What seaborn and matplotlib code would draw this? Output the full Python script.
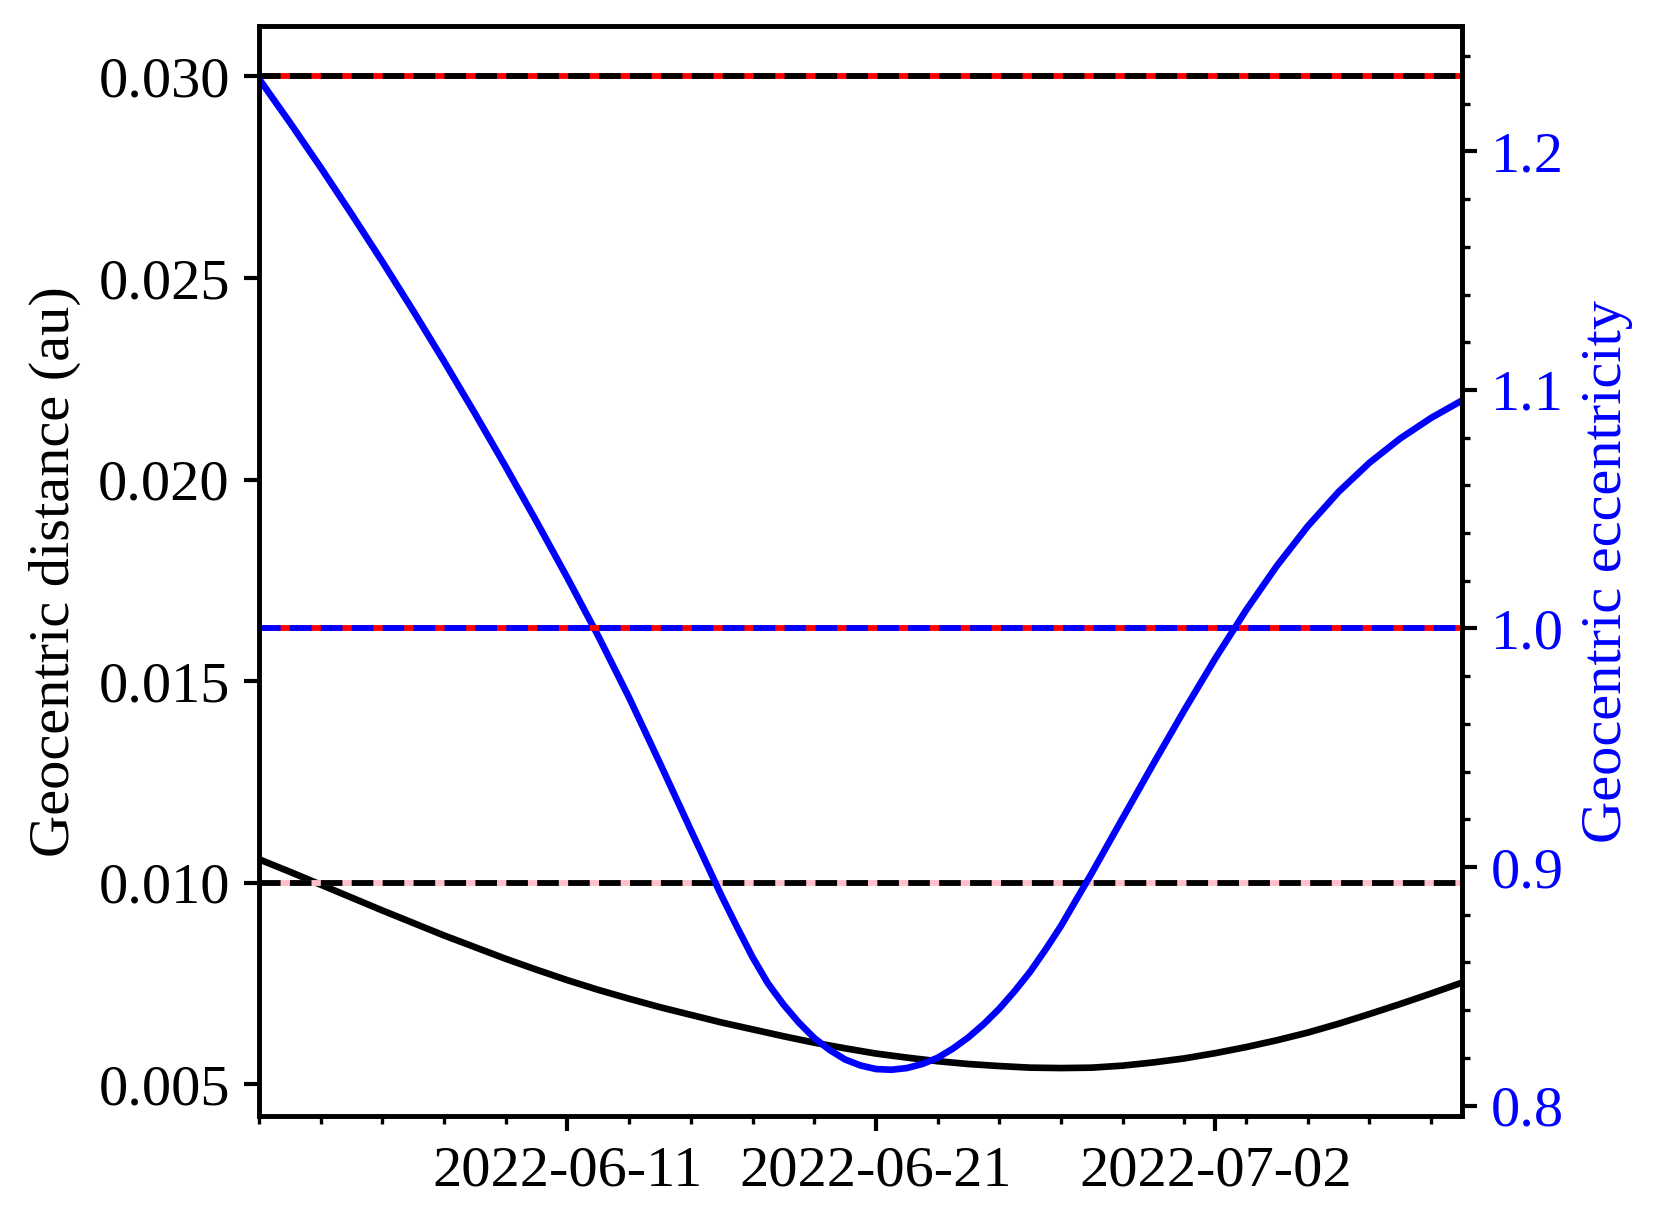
import pandas as pd
import matplotlib
matplotlib.use("Agg")
import matplotlib.pyplot as plt
import matplotlib.dates as mdates
from matplotlib.ticker import AutoMinorLocator, FixedLocator
import seaborn as sns

start = pd.Timestamp("2022-06-01")

# geocentric distance (au), one value per day from 2022-06-01 to 2022-07-10
dist_days = list(range(40))
distance = [0.01058, 0.01027, 0.00995, 0.00963, 0.00931, 0.00900, 0.00869, 0.00840,
            0.00811, 0.00784, 0.00758, 0.00734, 0.00712, 0.00691, 0.00672, 0.00653,
            0.00636, 0.00619, 0.00603, 0.00589, 0.00576, 0.00566, 0.00557, 0.00550,
            0.00545, 0.00541, 0.00540, 0.00541, 0.00546, 0.00554, 0.00564, 0.00577,
            0.00592, 0.00609, 0.00628, 0.00650, 0.00674, 0.00699, 0.00725, 0.00752]

# geocentric eccentricity (half-day readings around the minimum)
ecc_days = ([0, 1, 2, 3, 4, 5, 6, 7, 8, 9, 10, 11, 12, 13, 14, 15]
            + [15.5, 16, 16.5, 17, 17.5, 18, 18.5, 19, 19.5, 20, 20.5, 21, 21.5,
               22, 22.5, 23, 23.5, 24, 24.5, 25, 25.5]
            + [26, 27, 28, 29, 30, 31, 32, 33, 34, 35, 36, 37, 38, 39])
eccentricity = ([1.2305, 1.2122, 1.1933, 1.1738, 1.1538, 1.1332, 1.1120, 1.0902,
                 1.0678, 1.0448, 1.0212, 0.9968, 0.9710, 0.9435, 0.9155, 0.8878]
                + [0.8748, 0.8622, 0.8512, 0.8424, 0.8348, 0.8283, 0.8233, 0.8193,
                   0.8168, 0.8153, 0.8150, 0.8157, 0.8174, 0.8200, 0.8239, 0.8286,
                   0.8342, 0.8406, 0.8480, 0.8561, 0.8654]
                + [0.8753, 0.8975, 0.9205, 0.9434, 0.9658, 0.9874, 1.0077, 1.0263,
                   1.0429, 1.0573, 1.0695, 1.0797, 1.0883, 1.0956])

# reference levels
dist_limits = [0.030, 0.010]
dist_limit_colors = ["red", "pink"]
ecc_limit = 1.0

major_dates = pd.to_datetime(["2022-06-11", "2022-06-21", "2022-07-02"])

df_d = pd.DataFrame({"date": start + pd.to_timedelta(dist_days, unit="D"),
                     "distance": distance})
df_e = pd.DataFrame({"date": start + pd.to_timedelta(ecc_days, unit="D"),
                     "ecc": eccentricity})

sns.set_style("ticks")
plt.rcParams["font.family"] = ["Liberation Serif", "DejaVu Serif"]
plt.rcParams["font.size"] = 14
for k in ["text.color", "axes.labelcolor", "xtick.color", "ytick.color", "axes.edgecolor"]:
    plt.rcParams[k] = "black"
plt.rcParams["axes.linewidth"] = 1.1
plt.rcParams["xtick.major.width"] = 1.0
plt.rcParams["ytick.major.width"] = 1.0
plt.rcParams["xtick.minor.width"] = 0.8
plt.rcParams["ytick.minor.width"] = 0.8

fig = plt.figure(figsize=(1661 / 300, 1226 / 300), dpi=300)
ax = fig.add_axes([0.1559, 0.0897, 0.7243, 0.8887])
ax2 = ax.twinx()

lw = 1.6
dlw = 1.4
sns.lineplot(data=df_d, x="date", y="distance", ax=ax, color="black", lw=lw)
for lvl, c in zip(dist_limits, dist_limit_colors):
    ax.axhline(lvl, color=c, lw=dlw, ls="-")
    ax.axhline(lvl, color="black", lw=dlw, ls="--")

sns.lineplot(data=df_e, x="date", y="ecc", ax=ax2, color="blue", lw=lw)
ax2.axhline(ecc_limit, color="red", lw=dlw, ls="-")
ax2.axhline(ecc_limit, color="blue", lw=dlw, ls="--")

ax.set_xlim(start, start + pd.Timedelta(days=39))
ax.set_ylim(0.00421, 0.03124)
ax2.set_ylim(0.7956, 1.2524)

ax.xaxis.set_major_locator(FixedLocator(mdates.date2num(major_dates)))
ax.xaxis.set_major_formatter(mdates.DateFormatter("%Y-%m-%d"))
ax.xaxis.set_minor_locator(mdates.DayLocator(bymonthday=range(1, 32, 2)))
ax.set_yticks([0.005, 0.010, 0.015, 0.020, 0.025, 0.030])
ax.set_yticklabels(["0.005", "0.010", "0.015", "0.020", "0.025", "0.030"])
ax2.set_yticks([0.8, 0.9, 1.0, 1.1, 1.2])
ax2.yaxis.set_minor_locator(AutoMinorLocator(5))

ax.set_xlabel("")
ax.set_ylabel("Geocentric distance (au)", fontsize=14)
ax2.set_ylabel("Geocentric eccentricity", fontsize=14, color="blue")
ax2.tick_params(axis="y", which="both", labelcolor="blue", labelsize=14)
ax.tick_params(labelsize=14)

fig.savefig("out.png", dpi=300)
